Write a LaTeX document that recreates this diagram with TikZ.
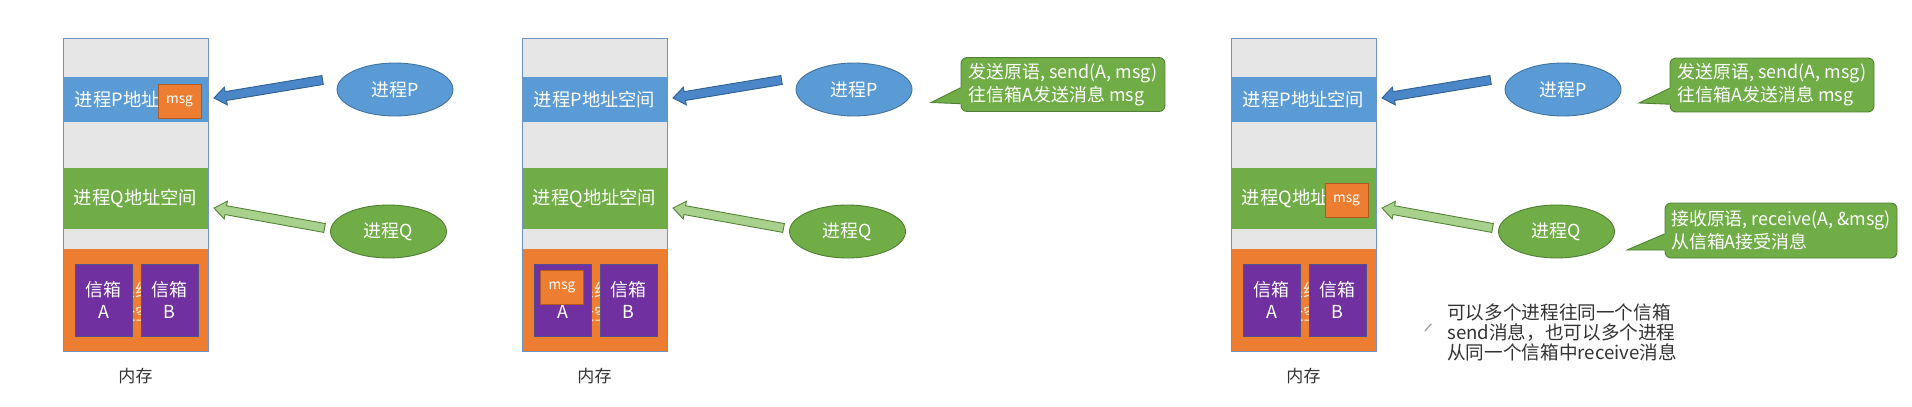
\documentclass[tikz,border=0pt]{standalone}
\usepackage{fontspec}
\setmainfont{Noto Sans CJK SC}
\usetikzlibrary{calc,shapes.geometric}

\definecolor{memgray}{HTML}{E7E6E6}
\definecolor{memline}{HTML}{6F93BE}
\definecolor{pblue}{HTML}{5B9BD5}
\definecolor{pblueline}{HTML}{41719C}
\definecolor{qgreen}{HTML}{70AD47}
\definecolor{qgreenline}{HTML}{507E32}
\definecolor{kernorange}{HTML}{ED7D31}
\definecolor{kernline}{HTML}{AE5A21}
\definecolor{kerntext}{HTML}{FBE3D2}
\definecolor{boxpurple}{HTML}{7030A0}
\definecolor{boxline}{HTML}{50508C}
\definecolor{arrowblue}{HTML}{4A86C8}
\definecolor{arrowblueline}{HTML}{2F5F8F}
\definecolor{arrowgreen}{HTML}{A9D18E}
\definecolor{arrowgreenline}{HTML}{548235}
\definecolor{textgray}{HTML}{333333}

% block arrow: start, end, fill, border
\newcommand{\blockarrow}[4]{%
  \coordinate (ba-head) at ($(#2)!0.24cm!(#1)$);
  \filldraw[fill=#3, draw=#4, line width=0.5pt, line join=miter]
    ($(#1)!0.09cm!90:(#2)$) -- ($(ba-head)!0.09cm!-90:(#1)$)
    -- ($(ba-head)!0.18cm!-90:(#1)$) -- (#2)
    -- ($(ba-head)!0.18cm!90:(#1)$) -- ($(ba-head)!0.09cm!90:(#1)$)
    -- ($(#1)!0.09cm!-90:(#2)$) -- cycle;
}

% callout pointer: callout node, tip
\newcommand{\calloutptr}[2]{%
  \coordinate (cp-a) at ($(#1.north west)!0.56!(#1.south west)$);
  \coordinate (cp-b) at ($(#1.north west)!0.85!(#1.south west)$);
  \fill[qgreen] (#2) -- (cp-a) -- ($(cp-a)+(2.5,0)$) -- ($(cp-b)+(2.5,0)$) -- (cp-b) -- cycle;
  \draw[qgreenline, line width=0.5pt] (cp-a) -- (#2) -- (cp-b);
}

\begin{document}
\begin{tikzpicture}[
        x=0.02cm, y=-0.02cm,
        band/.style={rectangle, minimum width=2.9cm, inner sep=0pt, outer sep=0pt,
            text=white, font=\fontsize{10.4}{12}\selectfont},
        mailbox/.style={rectangle, fill=boxpurple, draw=boxline, line width=0.4pt,
            minimum width=1.14cm, minimum height=1.44cm, inner sep=0pt, align=center,
            text=white, font=\fontsize{10.2}{12.5}\selectfont},
        msgbox/.style={rectangle, fill=kernorange, draw=kernline, line width=0.4pt,
            minimum width=0.86cm, minimum height=0.68cm, inner sep=0pt,
            text=white, font=\fontsize{7.8}{9}\selectfont},
        proc/.style={ellipse, minimum width=2.32cm, minimum height=1.06cm, inner sep=0pt,
            line width=0.5pt, text=white, font=\fontsize{10.2}{12}\selectfont},
        callout/.style={rectangle, rounded corners=0.12cm, fill=qgreen, draw=qgreenline,
            line width=0.5pt, inner sep=0pt, align=left, text=white,
            font=\fontsize{10.2}{13.1}\selectfont},
        caption/.style={text=textgray, font=\fontsize{9.7}{11}\selectfont}
    ]
        \useasboundingbox (0,0) rectangle (1912,406);

        % Memory stacks, processes and arrows
        \foreach \ox/\i in {63/1,522/2,1231/3}{
            \node[band, fill=memgray, minimum height=0.78cm] (gapT\i) at (\ox+72.5,57.5) {};
            \node[band, fill=pblue, minimum height=0.9cm] (bandP\i) at (\ox+72.5,99.5) {进程P地址空间};
            \node[band, fill=memgray, minimum height=0.92cm] (gapM\i) at (\ox+72.5,145) {};
            \node[band, fill=qgreen, minimum height=1.22cm] (bandQ\i) at (\ox+72.5,198.5) {进程Q地址空间};
            \node[band, fill=memgray, minimum height=0.4cm] (gapB\i) at (\ox+72.5,239) {};
            \node[band, fill=kernorange, minimum height=2.04cm] (kern\i) at (\ox+72.5,300) {};
            \node[text=kerntext, align=center, font=\fontsize{10.4}{13}\selectfont]
                (kernText\i) at (\ox+72.5,302) {操作系统内核\\地址空间};
            \draw[memline, line width=0.5pt] (gapT\i.north west) rectangle (kern\i.south east);
            \node[mailbox] (boxA\i) at (\ox+40.5,300) {信箱\\A};
            \node[mailbox] (boxB\i) at (\ox+106.5,300) {信箱\\B};
            \node[caption] (mem\i) at (\ox+72.5,376) {内存};

            \node[proc, fill=pblue, draw=pblueline] (procP\i) at (\ox+332,89.5) {进程P};
            \node[proc, fill=qgreen, draw=qgreenline] (procQ\i) at (\ox+325.5,231.5) {进程Q};

            \coordinate (pFrom\i) at ($(procP\i.west)+(-14,-9.5)$);
            \coordinate (pTo\i) at ($(bandP\i.east)+(6,-1.5)$);
            \coordinate (qFrom\i) at ($(procQ\i.west)+(-5.5,-3.5)$);
            \coordinate (qTo\i) at ($(bandQ\i.east)+(6,9.5)$);
            \blockarrow{pFrom\i}{pTo\i}{arrowblue}{arrowblueline}
            \blockarrow{qFrom\i}{qTo\i}{arrowgreen}{arrowgreenline}
        }

        % Messages
        \node[msgbox] (msgP1) at (179.5,101) {msg};
        \node[msgbox] (msgA2) at (562,287.5) {msg};
        \node[msgbox] (msgQ3) at (1346.5,200) {msg};

        % Callouts
        \node[callout, minimum width=4.08cm, minimum height=1.08cm] (sendP2) at (1063,84.5)
            {发送原语, send(A, msg)\\往信箱A发送消息 msg};
        \coordinate (sendTip2) at (931,102.5);
        \calloutptr{sendP2}{sendTip2}

        \node[callout, minimum width=4.08cm, minimum height=1.08cm] (sendP3) at (1772,85)
            {发送原语, send(A, msg)\\往信箱A发送消息 msg};
        \coordinate (sendTip3) at (1639,103);
        \calloutptr{sendP3}{sendTip3}

        \node[callout, minimum width=4.64cm, minimum height=1.1cm] (recvQ3) at (1781,230.5)
            {接收原语, receive(A, \&msg)\\从信箱A接受消息};
        \coordinate (recvTip3) at (1627,250);
        \calloutptr{recvQ3}{recvTip3}

        % Note
        \node[anchor=west, align=left, inner sep=0pt, text=textgray,
            font=\fontsize{10.6}{11.4}\selectfont] (note) at (1447,332)
            {可以多个进程往同一个信箱\\send消息，也可以多个进程\\从同一个信箱中receive消息};
        \draw[gray!70, line width=0.8pt, line cap=round] (1425,331) -- (1431,324);
    \end{tikzpicture}
\end{document}
